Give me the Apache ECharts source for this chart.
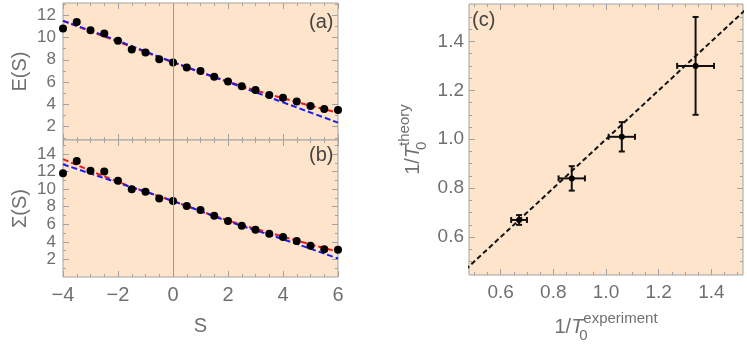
<!DOCTYPE html>
<html>
<head>
<meta charset="utf-8">
<script src="https://cdn.jsdelivr.net/npm/echarts@6/dist/echarts.min.js"></script>
<style>
  html, body { margin: 0; padding: 0; background: #fff; }
  #main { width: 747px; height: 348px; }
</style>
</head>
<body>
<div id="main"></div>
<script>
// panels (a) and (b): points at S = -4 .. 6
var sVals = [-4, -3.5, -3, -2.5, -2, -1.5, -1, -0.5, 0, 0.5, 1, 1.5, 2, 2.5, 3, 3.5, 4, 4.5, 5, 5.5, 6];
var eVals = [10.8, 11.4, 10.66, 10.36, 9.7, 8.93, 8.66, 8.06, 7.76, 7.31, 6.99, 6.48, 6.05, 5.62, 5.29, 4.84, 4.6, 4.25, 3.85, 3.58, 3.49];
var sigVals = [11.8, 13.2, 12.1, 12.0, 10.96, 10.0, 9.7, 8.95, 8.64, 8.08, 7.62, 6.98, 6.37, 5.84, 5.38, 4.92, 4.55, 4.09, 3.56, 3.15, 3.1];

// fitted curves, read at a few S values
var sLine = [-4, -2, 0, 2, 4, 6];
var redE = [11.5, 9.62, 7.78, 6.05, 4.55, 3.25];
var blueE = [11.5, 9.7, 7.8, 6.0, 4.18, 2.36];
var redSig = [13.43, 10.85, 8.65, 6.45, 4.6, 2.87];
var blueSig = [12.83, 10.73, 8.65, 6.35, 4.3, 2.1];

// panel (c)
var invTexp = [0.67, 0.87, 1.06, 1.34];
var invTexpErr = [0.03, 0.05, 0.05, 0.07];
var invTth = [0.67, 0.84, 1.01, 1.30];
var invTthErr = [0.02, 0.05, 0.06, 0.20];
var diagLine = [0.4, 1.6];

// tick values
var sTicks = [-4, -2, 0, 2, 4, 6];
var sMinor = [-3.5, -3, -2.5, -1.5, -1, -0.5, 0.5, 1, 1.5, 2.5, 3, 3.5, 4.5, 5, 5.5];
var eTicks = [2, 4, 6, 8, 10, 12];
var eMinor = [1, 3, 5, 7, 9, 11, 13];
var sigTicks = [2, 4, 6, 8, 10, 12, 14];
var sigMinor = [1, 3, 5, 7, 9, 11, 13, 15];
var cTicks = [0.6, 0.8, 1.0, 1.2, 1.4];
var cMinor = [0.5, 0.55, 0.65, 0.7, 0.75, 0.85, 0.9, 0.95, 1.05, 1.1, 1.15, 1.25, 1.3, 1.35, 1.45, 1.5];

var frameColor = '#a3a3a3';
var textColor = '#707070';
var bg = '#fde4ca';
var font = 'Liberation Sans';

function zip(a, b) {
  return a.map(function (v, i) { return [v, b[i]]; });
}
function minus(v) {
  return v < 0 ? '\u2212' + Math.abs(v) : String(v);
}
function oneDec(v) {
  return v.toFixed(1);
}

// four frame sides per dimension: major+minor ticks on both sides, labels only on the first
function frameAxes(gridIndex, dim, min, max, majors, minors, label, name) {
  var sides = dim === 'x' ? ['bottom', 'top'] : ['left', 'right'];
  var out = [];
  sides.forEach(function (side, k) {
    [true, false].forEach(function (major) {
      var ax = {
        type: 'value', gridIndex: gridIndex, position: side, min: min, max: max,
        splitLine: { show: false },
        axisLine: { show: false, onZero: false },
        axisTick: {
          show: true, inside: true, length: major ? 6 : 3,
          lineStyle: { color: frameColor, width: 1 },
          customValues: major ? majors : minors
        },
        axisLabel: { show: false }
      };
      if (k === 0 && major && label) {
        ax.axisLabel = Object.assign({
          show: true, customValues: majors, color: textColor,
          fontFamily: font, fontSize: 17
        }, label);
      }
      if (k === 0 && major && name) Object.assign(ax, name);
      out.push(ax);
    });
  });
  return out;
}

var nameStyle = { color: textColor, fontFamily: font, fontSize: 20 };
var richName = {
  color: textColor, fontFamily: font, fontSize: 20,
  rich: {
    b: { fontSize: 20, lineHeight: 32, color: textColor, fontFamily: font },
    t: { fontSize: 20, fontStyle: 'italic', lineHeight: 32, color: textColor, fontFamily: font },
    sub: { fontSize: 15, verticalAlign: 'bottom', width: 0, color: textColor, fontFamily: font },
    sup: { fontSize: 15, verticalAlign: 'top', color: textColor, fontFamily: font }
  }
};

var xAxes = []
  .concat(frameAxes(0, 'x', -4, 6, sTicks, sMinor, null, null))
  .concat(frameAxes(1, 'x', -4, 6, sTicks, sMinor, { margin: 8, fontSize: 20, formatter: minus },
    { name: 'S', nameLocation: 'middle', nameGap: 39, nameTextStyle: nameStyle }))
  .concat(frameAxes(2, 'x', 0.48, 1.52, cTicks, cMinor, { margin: 8, fontSize: 19, formatter: oneDec },
    { name: '{b|1/}{t|T}{sub|0}{sup|experiment}', nameLocation: 'middle', nameGap: 36, nameTextStyle: richName }));

var yAxes = []
  .concat(frameAxes(0, 'y', 0.8, 13.1, eTicks, eMinor, { margin: 7, fontSize: 17 },
    { name: 'E(S)', nameLocation: 'middle', nameGap: 33, nameTextStyle: nameStyle }))
  .concat(frameAxes(1, 'y', 0, 15.6, sigTicks, sigMinor, { margin: 7, fontSize: 17 },
    { name: '\u03A3(S)', nameLocation: 'middle', nameGap: 33, nameTextStyle: nameStyle }))
  .concat(frameAxes(2, 'y', 0.445, 1.553, cTicks, cMinor, { margin: 5, fontSize: 19, formatter: oneDec },
    { name: '{b|1/}{t|T}{sub|0}{sup|theory}', nameLocation: 'middle', nameGap: 40, nameTextStyle: richName }));

var gridBase = { show: true, backgroundColor: bg, borderColor: frameColor, borderWidth: 1, containLabel: false };

function dashed(color, dataX, dataY, g) {
  return {
    type: 'line', xAxisIndex: 4 * g, yAxisIndex: 4 * g,
    data: zip(dataX, dataY), smooth: true, symbol: 'none', silent: true,
    lineStyle: { color: color, width: 2, type: [6, 3] }, z: 3
  };
}
function dots(dataY, g) {
  return {
    type: 'scatter', xAxisIndex: 4 * g, yAxisIndex: 4 * g,
    data: zip(sVals, dataY), symbolSize: 8, itemStyle: { color: '#000', opacity: 1 }, z: 4
  };
}
function zeroLine(g) {
  return {
    type: 'line', xAxisIndex: 4 * g, yAxisIndex: 4 * g, data: [], z: 2,
    markLine: {
      silent: true, symbol: 'none', label: { show: false },
      lineStyle: { color: '#9a9a9a', width: 1, type: 'solid' },
      data: [{ xAxis: 0 }]
    }
  };
}

var errData = invTexp.map(function (x, i) {
  return [x, invTth[i], invTexpErr[i], invTthErr[i]];
});

var option = {
  animation: false,
  backgroundColor: '#fff',
  grid: [
    Object.assign({ left: 63, top: 3, width: 275, height: 137 }, gridBase),
    Object.assign({ left: 63, top: 140, width: 275, height: 137 }, gridBase),
    Object.assign({ left: 469, top: 4, width: 274, height: 273 }, gridBase)
  ],
  xAxis: xAxes,
  yAxis: yAxes,
  graphic: [
    { type: 'text', left: 309, top: 12, style: { text: '(a)', fill: '#444', font: '20px "Liberation Sans"' } },
    { type: 'text', left: 309, top: 145, style: { text: '(b)', fill: '#444', font: '20px "Liberation Sans"' } },
    { type: 'text', left: 472, top: 10, style: { text: '(c)', fill: '#444', font: '20px "Liberation Sans"' } }
  ],
  series: [
    zeroLine(0),
    dashed('#f01818', sLine, redE, 0),
    dashed('#1c1cf0', sLine, blueE, 0),
    dots(eVals, 0),
    zeroLine(1),
    dashed('#f01818', sLine, redSig, 1),
    dashed('#1c1cf0', sLine, blueSig, 1),
    dots(sigVals, 1),
    {
      type: 'line', xAxisIndex: 8, yAxisIndex: 8, data: zip(diagLine, diagLine),
      symbol: 'none', silent: true, z: 3,
      lineStyle: { color: '#111', width: 2, type: [5, 3] }
    },
    {
      type: 'custom', xAxisIndex: 8, yAxisIndex: 8, data: errData, z: 4,
      renderItem: function (params, api) {
        var x = api.value(0), y = api.value(1), ex = api.value(2), ey = api.value(3);
        var c = api.coord([x, y]);
        var l = api.coord([x - ex, y]), r = api.coord([x + ex, y]);
        var t = api.coord([x, y + ey]), b = api.coord([x, y - ey]);
        var cap = 3;
        var st = { stroke: '#111', lineWidth: 2 };
        return {
          type: 'group',
          children: [
            { type: 'line', shape: { x1: l[0], y1: l[1], x2: r[0], y2: r[1] }, style: st },
            { type: 'line', shape: { x1: t[0], y1: t[1], x2: b[0], y2: b[1] }, style: st },
            { type: 'line', shape: { x1: l[0], y1: l[1] - cap, x2: l[0], y2: l[1] + cap }, style: st },
            { type: 'line', shape: { x1: r[0], y1: r[1] - cap, x2: r[0], y2: r[1] + cap }, style: st },
            { type: 'line', shape: { x1: t[0] - cap, y1: t[1], x2: t[0] + cap, y2: t[1] }, style: st },
            { type: 'line', shape: { x1: b[0] - cap, y1: b[1], x2: b[0] + cap, y2: b[1] }, style: st },
            { type: 'circle', shape: { cx: c[0], cy: c[1], r: 3 }, style: { fill: '#000' } }
          ]
        };
      }
    }
  ]
};

var myChart = echarts.init(document.getElementById('main'));
myChart.setOption(option);
</script>
</body>
</html>
